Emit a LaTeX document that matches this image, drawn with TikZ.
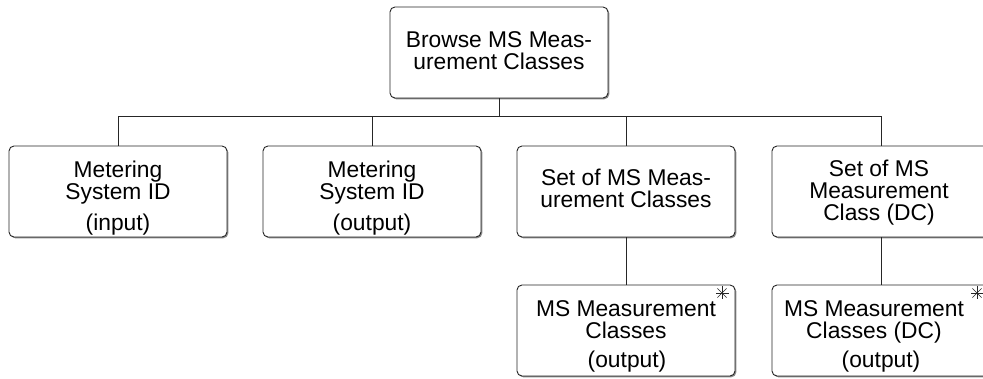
\documentclass[tikz,border=0pt]{standalone}
\usepackage{fontspec}
\setmainfont{Liberation Sans}
\usetikzlibrary{shadows}
\tikzset{
  x=1pt, y=1pt,
  box/.style={draw=black!85, line width=0.9pt, rounded corners=5pt, fill=white,
    minimum width=218pt, minimum height=91pt, inner sep=0pt,
    drop shadow={shadow xshift=1.3pt, shadow yshift=-1.3pt, fill=black!45, opacity=1}},
  txt/.style={anchor=base, inner sep=0pt, font=\fontsize{22.8}{22}\selectfont},
  link/.style={draw=black!85, line width=0.8pt},
  star/.style={draw=black!85, line width=0.6pt}
}
\begin{document}
\begin{tikzpicture}
\useasboundingbox (0,0) rectangle (983,379);
% boxes
\node[box] (top) at (499,326.5) {};
\node[box] (c1) at (118,187.5) {};
\node[box] (c2) at (372,187.5) {};
\node[box] (c3) at (626,187.5) {};
\node[box] (c4) at (881,187.5) {};
\node[box] (d3) at (626,48.5) {};
\node[box] (d4) at (881,48.5) {};
% connectors
\coordinate (j) at (499,263);
\path[link] (top.south) -- (j);
\path[link] (c1.north) |- (j);
\path[link] (c2.north) |- (j);
\path[link] (c3.north) |- (j);
\path[link] (c4.north) |- (j);
\path[link] (c3.south) -- (d3.north);
\path[link] (c4.south) -- (d4.north);
% texts
\node[txt] (ta) at (499,331) {Browse MS Meas-};
\node[txt] (tb) at (499,309) {urement Classes};
\node[txt] (c1a) at (118,201) {Metering};
\node[txt] (c1b) at (118,179) {System ID};
\node[txt] (c1c) at (118,148) {(input)};
\node[txt] (c2a) at (372,201) {Metering};
\node[txt] (c2b) at (372,179) {System ID};
\node[txt] (c2c) at (372,148) {(output)};
\node[txt] (c3a) at (626,193) {Set of MS Meas-};
\node[txt] (c3b) at (626,171) {urement Classes};
\node[txt] (c4a) at (879,202) {Set of MS};
\node[txt] (c4b) at (879,180) {Measurement};
\node[txt] (c4c) at (879,158) {Class (DC)};
\node[txt] (d3a) at (626,62) {MS Measurement};
\node[txt] (d3b) at (626,40) {Classes};
\node[txt] (d3c) at (627,11) {(output)};
\node[txt] (d4a) at (874,62) {MS Measurement};
\node[txt] (d4b) at (874,40) {Classes (DC)};
\node[txt] (d4c) at (881,11) {(output)};
% iteration marks
\coordinate (s3) at (722,86);
\coordinate (s4) at (977,86);
\foreach \a in {0,45,90,135}{
  \path[star] (s3) ++(\a:6.5) -- ++(\a+180:13);
  \path[star] (s4) ++(\a:6.5) -- ++(\a+180:13);
}
\end{tikzpicture}
\end{document}
